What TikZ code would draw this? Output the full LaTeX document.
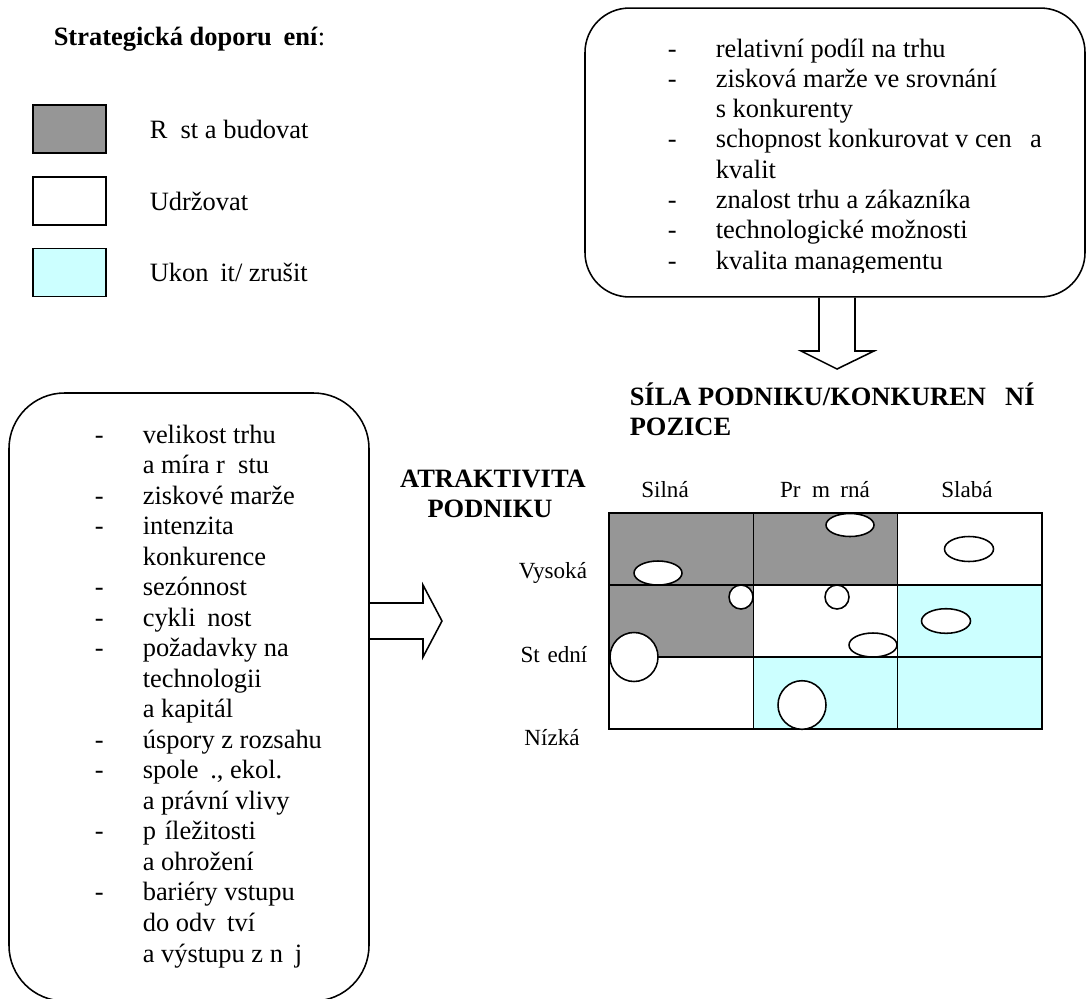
\documentclass[tikz,border=0pt]{standalone}
\usepackage{fontspec}
\setmainfont{Liberation Serif}
\usetikzlibrary{positioning}
\definecolor{growgray}{RGB}{150,150,150}
\definecolor{dropcyan}{RGB}{204,255,255}
\newcommand{\gap}[1]{\phantom{#1}}
\tikzset{
  txt/.style={inner sep=0pt, font=\fontsize{11.9}{13.7}\selectfont},
  small/.style={inner sep=0pt, font=\fontsize{10.4}{12}\selectfont},
  head/.style={inner sep=0pt, font=\fontsize{11.9}{13.7}\selectfont\bfseries},
  legbox/.style={draw, minimum width=32.9pt, minimum height=21.6pt, inner sep=0pt},
  roundbox/.style={draw, inner sep=0pt},
}

\begin{document}
\begin{tikzpicture}[x=0.45pt, y=-0.45pt, line width=0.7pt]
		\useasboundingbox (0,0) rectangle (1087,998);
		\clip (0,0) rectangle (1087,998);

		% legenda
		\node[head, anchor=base west] (title) at (53,45) {Strategická doporu\gap{č}ení\textmd{:}};
		\node[legbox, fill=growgray] (grow) at (69.5,129) {};
		\node[legbox] (keep) at (69.5,201) {};
		\node[legbox, fill=dropcyan] (drop) at (69.5,272.5) {};
		\node[txt, right=19pt of grow] (growtxt) {R\gap{ů}st a budovat};
		\node[txt, right=19pt of keep] (keeptxt) {Udržovat};
		\node[txt, right=19pt of drop] (droptxt) {Ukon\gap{č}it/ zrušit};

		% sila podniku
		\node[roundbox, rounded corners=20pt, minimum width=225pt, minimum height=130pt] (strength) at (835,152.5) {};
		\begin{scope}
			\clip (585,8) rectangle (1085,272.5);
			\foreach \d/\t [count=\i] in {-/relativní podíl na trhu, -/zisková marže ve srovnání, /s konkurenty, -/schopnost konkurovat v cen\gap{ě} a, /kvalit, -/znalost trhu a zákazníka, -/technologické možnosti, -/kvalita managementu}
			{
				\node[txt, anchor=base west] (sd\i) at (667, {57+30.3*(\i-1)}) {\d};
				\node[txt, anchor=base west] (s\i) at (715, {57+30.3*(\i-1)}) {\t};
			}
		\end{scope}

		% atraktivita trhu
		\node[roundbox, rounded corners=25pt, minimum width=162pt, minimum height=273.6pt] (market) at (189,697) {};
		\foreach \d/\t [count=\i] in {-/velikost trhu, /a míra r\gap{ů}stu, -/ziskové marže, -/intenzita, /konkurence, -/sezónnost, -/cykli\gap{č}nost, -/požadavky na, /technologii, /a kapitál, -/úspory z rozsahu, {-/spole\gap{č}., ekol.}, /a právní vlivy, -/p\gap{ř}íležitosti, /a ohrožení, -/bariéry vstupu, /do odv\gap{ě}tví, /a výstupu z n\gap{ě}j}
		{
			\node[txt, anchor=base west] (md\i) at (94, {443+30.53*(\i-1)}) {\d};
			\node[txt, anchor=base west] (m\i) at (142, {443+30.53*(\i-1)}) {\t};
		}

		% sipky
		\draw (819,0 |- strength.south) -- (819,351) -- (801,351) -- (837,369) -- (874,351) -- (855,351) -- (855,0 |- strength.south);
		\draw (market.east |- 0,603) -- (423,603) -- (423,585) -- (442,621) -- (423,657) -- (423,639) -- (market.east |- 0,639);

		% nadpisy
		\node[head, anchor=base west] (pos1) at (629,405) {SÍLA PODNIKU/KONKUREN\gap{Č}NÍ};
		\node[head, anchor=base west] (pos2) at (629,435) {POZICE};
		\node[head, anchor=base] (attr1) at (493,487) {ATRAKTIVITA};
		\node[head, anchor=base] (attr2) at (490,517) {PODNIKU};

		\node[small, anchor=base] (strong) at (665,497) {Silná};
		\node[small, anchor=base] (avg) at (825,497) {Pr\gap{ů}m\gap{ě}rná};
		\node[small, anchor=base] (weak) at (967,497) {Slabá};
		\node[small, anchor=base] (high) at (553,578) {Vysoká};
		\node[small, anchor=base] (mid) at (554,662) {St\gap{ř}ední};
		\node[small, anchor=base] (low) at (552,745) {Nízká};

		% matice
		\foreach \c/\r/\f in {0/0/growgray, 1/0/growgray, 2/0/white, 0/1/growgray, 1/1/white, 2/1/dropcyan, 0/2/white, 1/2/dropcyan, 2/2/dropcyan}
			\draw[fill=\f] ({609+144.3*\c}, {513+72*\r}) rectangle +(144.3,72);

		\foreach \x/\y/\a/\b in {658/573/24/12, 850/525/24/11.5, 969/549/24.5/12.5, 741/597/12/12, 837/597/12/12, 873/645/24/12, 946/621/24.5/12.3, 634/657/24/24.5, 802/705/24/24.3}
			\draw[fill=white] (\x,\y) ellipse [x radius=\a, y radius=\b];
	\end{tikzpicture}
\end{document}
